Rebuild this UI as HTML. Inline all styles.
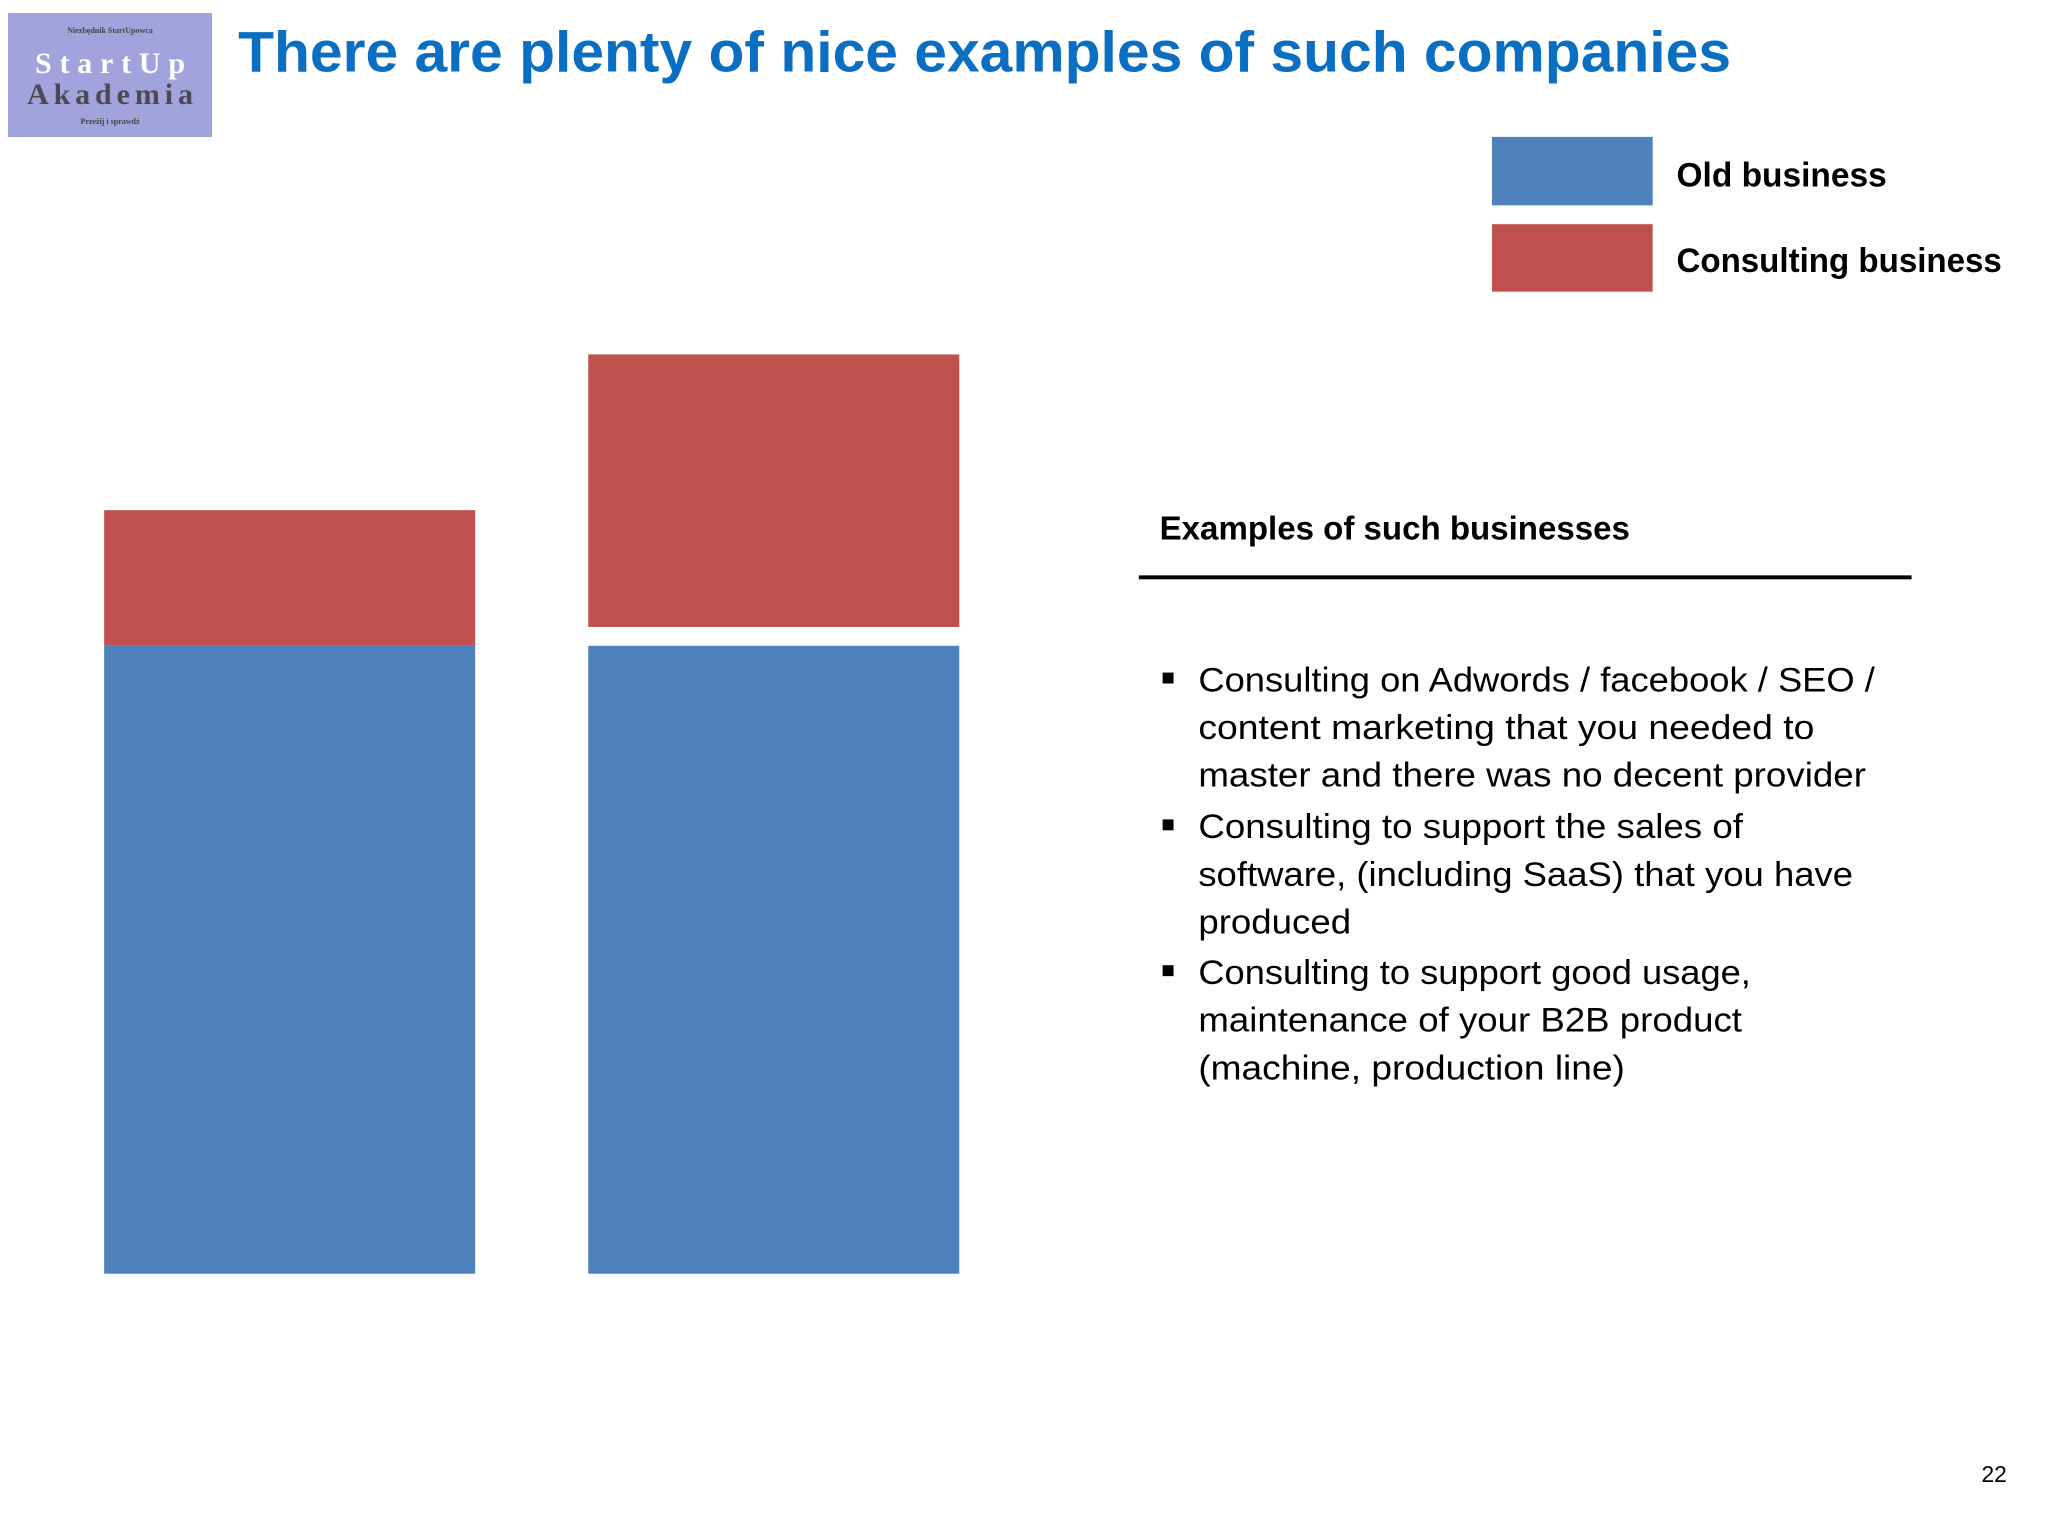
<!DOCTYPE html>
<html><head><meta charset="utf-8"><style>
html,body{margin:0;padding:0;background:#fff;}
svg{display:block;font-family:"Liberation Sans",sans-serif;}
</style></head><body>
<svg width="2048" height="1536" viewBox="0 0 2048 1536">
  <g>
    <rect x="8" y="13" width="204" height="124" fill="#9fa4dc"/>
    <text x="110" y="33" font-size="8" text-anchor="middle" fill="#444" font-weight="bold" font-family="Liberation Serif, serif">Niezbędnik StartUpowca</text>
    <text x="110" y="73" font-size="30" text-anchor="middle" fill="#fff" font-weight="bold" font-family="Liberation Serif, serif" textLength="150">StartUp</text>
    <text x="110" y="104" font-size="30" text-anchor="middle" fill="#4a4a52" font-weight="bold" font-family="Liberation Serif, serif" textLength="166">Akademia</text>
    <text x="110" y="124" font-size="8" text-anchor="middle" fill="#444" font-weight="bold" font-family="Liberation Serif, serif">Przeżij i sprawdź</text>
  </g>
  <g transform="scale(0.992)">
  <text x="240" y="72" font-size="58" font-weight="bold" fill="#0a6fc2" textLength="1505" lengthAdjust="spacingAndGlyphs">There are plenty of nice examples of such companies</text>

  <g>
    <rect x="1504" y="138" width="162" height="69" fill="#4f81bd"/>
    <text x="1690" y="188" font-size="35" font-weight="bold" fill="#000" textLength="212" lengthAdjust="spacingAndGlyphs">Old business</text>
    <rect x="1504" y="226" width="162" height="68" fill="#c0504d"/>
    <text x="1690" y="274" font-size="35" font-weight="bold" fill="#000" textLength="328" lengthAdjust="spacingAndGlyphs">Consulting business</text>
  </g>

  <g id="bars"></g>

  <text x="1169" y="544" font-size="34" font-weight="bold" fill="#000" textLength="474" lengthAdjust="spacingAndGlyphs">Examples of such businesses</text>
  <rect x="1148" y="580" width="779" height="4" fill="#000"/>

  <g font-size="35" fill="#000">
    <rect x="1172" y="678" width="11" height="11" fill="#000"/>
    <text x="1208" y="697" textLength="682" lengthAdjust="spacingAndGlyphs">Consulting on Adwords / facebook / SEO /</text>
    <text x="1208" y="745" textLength="621" lengthAdjust="spacingAndGlyphs">content marketing that you needed to</text>
    <text x="1208" y="793" textLength="673" lengthAdjust="spacingAndGlyphs">master and there was no decent provider</text>
    <rect x="1172" y="826" width="11" height="11" fill="#000"/>
    <text x="1208" y="845" textLength="549" lengthAdjust="spacingAndGlyphs">Consulting to support the sales of</text>
    <text x="1208" y="893" textLength="660" lengthAdjust="spacingAndGlyphs">software, (including SaaS)  that you have</text>
    <text x="1208" y="941" textLength="154" lengthAdjust="spacingAndGlyphs">produced</text>
    <rect x="1172" y="973" width="11" height="11" fill="#000"/>
    <text x="1208" y="992" textLength="557" lengthAdjust="spacingAndGlyphs">Consulting to support good usage,</text>
    <text x="1208" y="1040" textLength="548" lengthAdjust="spacingAndGlyphs">maintenance of your B2B product</text>
    <text x="1208" y="1088" textLength="430" lengthAdjust="spacingAndGlyphs">(machine, production line)</text>
  </g>

  <text x="2023" y="1494" font-size="23" text-anchor="end" fill="#000">22</text>
  </g>
</svg>
<script>
const categories = ["Before", "After"];
const oldBusiness = [100, 100];
const consulting = [21.6, 43.4];
const stackGap = [0, 3];

const svgNS = "http://www.w3.org/2000/svg";
const g = document.getElementById("bars");
const baseY = 1284, pxPerUnit = 6.33;
const barX0 = 105, barStep = 488, barW = 374;
function yScale(v){ return baseY - v * pxPerUnit; }
function xScale(i){ return barX0 + i * barStep; }
categories.forEach((c, i) => {
  const b = document.createElementNS(svgNS, "rect");
  b.setAttribute("x", xScale(i));
  b.setAttribute("y", yScale(oldBusiness[i]));
  b.setAttribute("width", barW);
  b.setAttribute("height", baseY - yScale(oldBusiness[i]));
  b.setAttribute("fill", "#4f81bd");
  
  
  g.appendChild(b);
  const r = document.createElementNS(svgNS, "rect");
  const top = yScale(oldBusiness[i] + stackGap[i] + consulting[i]);
  const bottom = yScale(oldBusiness[i] + stackGap[i]);
  r.setAttribute("x", xScale(i));
  r.setAttribute("y", top);
  r.setAttribute("width", barW);
  r.setAttribute("height", bottom - top);
  r.setAttribute("fill", "#c0504d");
  
  
  g.appendChild(r);
});
</script>
</body></html>
